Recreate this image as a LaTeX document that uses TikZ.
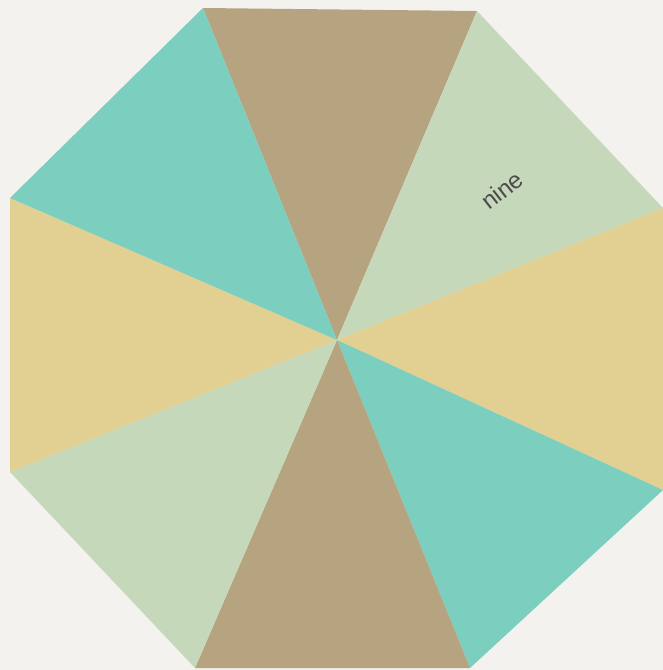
\documentclass[tikz,border=0pt]{standalone}
\usepackage{fontspec}
\setmainfont{Liberation Sans}
\usepackage{xcolor}
\usepackage{tikz}
\usetikzlibrary{positioning}

\definecolor{paper}{RGB}{243,242,239}
\definecolor{spinbrown}{RGB}{182,163,127}
\definecolor{spinteal}{RGB}{124,206,190}
\definecolor{spinsage}{RGB}{198,216,186}
\definecolor{spintan}{RGB}{226,207,146}

\begin{document}
\begin{tikzpicture}[x=0.5pt, y=-0.5pt,
    sector/.style={draw=none},
    numlabel/.style={font=\fontsize{12}{14}\selectfont, text=black!70, rotate=38, inner sep=0pt}
]
    % Page
    \fill[paper] (0,0) rectangle (663,670);
    \useasboundingbox (0,0) rectangle (663,670);

    % Octagon corners
    \coordinate (hub) at (337,340);
    \coordinate (v1) at (203,8);
    \coordinate (v2) at (477,11);
    \coordinate (v3) at (663,208);
    \coordinate (v4) at (663,490);
    \coordinate (v5) at (470,668);
    \coordinate (v6) at (195,668);
    \coordinate (v7) at (10,472);
    \coordinate (v8) at (10,198);

    % Sectors
    \fill[sector, spinbrown] (hub) -- (v1) -- (v2) -- cycle;
    \fill[sector, spinsage] (hub) -- (v2) -- (v3) -- cycle;
    \fill[sector, spintan] (hub) -- (v3) -- (v4) -- cycle;
    \fill[sector, spinteal] (hub) -- (v4) -- (v5) -- cycle;
    \fill[sector, spinbrown] (hub) -- (v5) -- (v6) -- cycle;
    \fill[sector, spinsage] (hub) -- (v6) -- (v7) -- cycle;
    \fill[sector, spintan] (hub) -- (v7) -- (v8) -- cycle;
    \fill[sector, spinteal] (hub) -- (v8) -- (v1) -- cycle;

    % Label
    \node[numlabel] (nine) at (502,190) {nine};
\end{tikzpicture}
\end{document}
